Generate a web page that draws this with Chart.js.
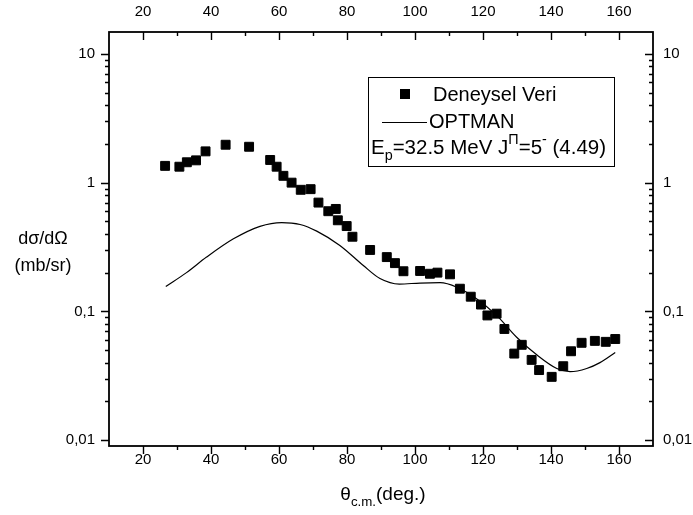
<!DOCTYPE html>
<html>
<head>
<meta charset="utf-8">
<script src="https://cdn.jsdelivr.net/npm/chart.js@4/dist/chart.umd.min.js"></script>
<style>
    html, body { margin: 0; padding: 0; background: #fff; }
    #wrap { width: 693px; height: 515px; }
</style>
</head>
<body>
<div id="wrap"><canvas id="chart" width="693" height="515"></canvas></div>
<script>
// Experimental points (Deneysel Veri)
const thetaExp = [26.5, 30.7, 32.9, 35.6, 38.4, 44.3, 51.2, 57.4, 59.3, 61.3, 63.7, 66.4, 69.3, 71.6, 74.5, 76.7, 77.3,
    79.9, 81.6, 86.8, 91.7, 94.1, 96.6, 101.5, 104.4, 106.6, 110.3, 113.2, 116.4, 119.4, 121.3, 124.0, 126.3,
    129.2, 131.4, 134.3, 136.5, 140.2, 143.6, 145.9, 149.0, 152.9, 156.1, 158.9];
const sigmaExp = [1.35, 1.33, 1.44, 1.49, 1.75, 1.97, 1.90, 1.50, 1.33, 1.13, 1.00, 0.88, 0.89, 0.70, 0.60, 0.625, 0.51,
    0.46, 0.38, 0.30, 0.264, 0.237, 0.205, 0.206, 0.196, 0.20, 0.194, 0.15, 0.13, 0.113, 0.093, 0.096, 0.073,
    0.047, 0.055, 0.042, 0.035, 0.031, 0.0375, 0.049, 0.057, 0.059, 0.058, 0.061];

// OPTMAN calculation
const thetaCalc = [26.7, 32.8, 38.7, 46.6, 54.4, 60.8, 66.2, 71.1, 77.9, 84.8, 89.7, 95.4, 101.5, 107.4, 112.3,
    118.2, 124.0, 129.9, 135.8, 141.7, 145.6, 150.5, 154.4, 158.9];
const sigmaCalc = [0.156, 0.20, 0.264, 0.366, 0.458, 0.49, 0.473, 0.42, 0.325, 0.227, 0.18, 0.163, 0.166, 0.167, 0.154,
    0.125, 0.093, 0.063, 0.046, 0.036, 0.034, 0.036, 0.040, 0.048];

// Axis ticks
const xMajor = [20, 40, 60, 80, 100, 120, 140, 160];
const xMinor = [30, 50, 70, 90, 110, 130, 150];
const yMajor = [0.01, 0.1, 1, 10];

const FONT = 'Liberation Sans, Arial, sans-serif';
const X_MIN = 10, X_MAX = 170, Y_MIN = 0.009, Y_MAX = 14.8;

const fmtY = v => String(v).replace('.', ',');

function fixTicks(list) {
    return scale => { scale.ticks = list.map(v => ({ value: v })); };
}

// Draw a string made of runs: {t, sub, sup}
function runsWidth(ctx, runs, size) {
    let w = 0;
    runs.forEach(r => {
        ctx.font = ((r.sub || r.sup) ? size * 0.7 : size) + 'px ' + FONT;
        w += ctx.measureText(r.t).width;
    });
    return w;
}

function drawRuns(ctx, x, y, runs, size) {
    runs.forEach(r => {
        const s = (r.sub || r.sup) ? size * 0.7 : size;
        ctx.font = s + 'px ' + FONT;
        let dy = 0;
        if (r.sub) dy = size * 0.38;
        if (r.sup) dy = -size * 0.4;
        ctx.fillText(r.t, x, y + dy);
        x += ctx.measureText(r.t).width;
    });
}

const framePlugin = {
    id: 'frame',
    afterDraw(chart) {
        const ctx = chart.ctx;
        const a = chart.chartArea;
        const xs = chart.scales.x, ys = chart.scales.y;
        ctx.save();
        ctx.strokeStyle = '#000';
        ctx.fillStyle = '#000';

        ctx.lineWidth = 1.8;
        ctx.strokeRect(a.left, a.top, a.right - a.left, a.bottom - a.top);

        ctx.lineWidth = 1.4;
        ctx.beginPath();
        // x ticks: bottom outward, top inward
        const xTick = (v, len) => {
            const px = Math.round(xs.getPixelForValue(v)) + 0.5;
            ctx.moveTo(px, a.bottom); ctx.lineTo(px, a.bottom + len);
            ctx.moveTo(px, a.top); ctx.lineTo(px, a.top + len);
        };
        xMajor.forEach(v => xTick(v, 8));
        xMinor.forEach(v => xTick(v, 4));
        // y ticks: left outward, right inward
        const yTick = (v, len) => {
            const py = Math.round(ys.getPixelForValue(v)) + 0.5;
            ctx.moveTo(a.left, py); ctx.lineTo(a.left - len, py);
            ctx.moveTo(a.right, py); ctx.lineTo(a.right - len, py);
        };
        yMajor.forEach(v => {
            yTick(v, 8);
            for (let k = 2; k <= 9; k++) {
                const m = v * k;
                if (m > Y_MIN && m < Y_MAX) yTick(m, 4);
            }
        });
        ctx.stroke();

        // axis titles
        ctx.textBaseline = 'middle';
        ctx.textAlign = 'center';
        ctx.font = '18px ' + FONT;
        ctx.fillText('d\u03C3/d\u03A9', 43, 239);
        ctx.fillText('(mb/sr)', 43, 266);

        ctx.textAlign = 'left';
        const xTitle = [{ t: '\u03B8' }, { t: 'c.m.', sub: true }, { t: '(deg.)' }];
        const tw = runsWidth(ctx, xTitle, 19);
        drawRuns(ctx, (a.left + a.right) / 2 - tw / 2 + 2, 495, xTitle, 19);

        // legend
        ctx.lineWidth = 1;
        ctx.strokeRect(368.5, 77.5, 246, 89);
        ctx.fillRect(400, 89, 10, 10);
        ctx.beginPath();
        ctx.moveTo(382, 122.5); ctx.lineTo(427, 122.5);
        ctx.stroke();
        ctx.font = '20px ' + FONT;
        ctx.fillText('Deneysel Veri', 433, 95);
        ctx.fillText('OPTMAN', 429, 122);
        drawRuns(ctx, 371, 148, [
            { t: 'E' }, { t: 'p', sub: true }, { t: '=32.5 MeV J' }, { t: '\u03A0', sup: true },
            { t: '=5' }, { t: '-', sup: true }, { t: ' (4.49)' }
        ], 20.5);
        ctx.restore();
    }
};

const tickFont = { family: FONT, size: 15 };

new Chart(document.getElementById('chart'), {
    data: {
        datasets: [{
            type: 'scatter',
            label: 'Deneysel Veri',
            data: thetaExp.map((t, i) => ({ x: t, y: sigmaExp[i] })),
            pointStyle: 'rect',
            pointRadius: 6.3,
            backgroundColor: '#000',
            borderColor: '#000',
            borderWidth: 1,
            xAxisID: 'x',
            yAxisID: 'y'
        }, {
            type: 'line',
            label: 'OPTMAN',
            data: thetaCalc.map((t, i) => ({ x: t, y: sigmaCalc[i] })),
            borderColor: '#000',
            borderWidth: 1.2,
            pointRadius: 0,
            cubicInterpolationMode: 'monotone',
            fill: false,
            xAxisID: 'x',
            yAxisID: 'y'
        }]
    },
    options: {
        responsive: false,
        animation: false,
        devicePixelRatio: 1,
        layout: { padding: 0 },
        plugins: { legend: { display: false }, tooltip: { enabled: false } },
        scales: {
            x: {
                type: 'linear', position: 'bottom', min: X_MIN, max: X_MAX,
                afterBuildTicks: fixTicks(xMajor),
                afterFit: s => { s.height = 69; },
                grid: { display: false, drawTicks: false }, border: { display: false },
                ticks: { color: '#000', font: tickFont, padding: 5, maxRotation: 0 }
            },
            x2: {
                type: 'linear', position: 'top', min: X_MIN, max: X_MAX,
                afterBuildTicks: fixTicks(xMajor),
                afterFit: s => { s.height = 32; },
                grid: { display: false, drawTicks: false }, border: { display: false },
                ticks: { color: '#000', font: tickFont, padding: 11, maxRotation: 0 }
            },
            y: {
                type: 'logarithmic', position: 'left', min: Y_MIN, max: Y_MAX,
                afterBuildTicks: fixTicks(yMajor),
                afterFit: s => { s.width = 109; },
                grid: { display: false, drawTicks: false }, border: { display: false },
                ticks: { color: '#000', font: tickFont, padding: 14, callback: v => fmtY(v) }
            },
            y2: {
                type: 'logarithmic', position: 'right', min: Y_MIN, max: Y_MAX,
                afterBuildTicks: fixTicks(yMajor),
                afterFit: s => { s.width = 40; },
                grid: { display: false, drawTicks: false }, border: { display: false },
                ticks: { color: '#000', font: tickFont, padding: 10, callback: v => fmtY(v) }
            }
        }
    },
    plugins: [framePlugin]
});
</script>
</body>
</html>
